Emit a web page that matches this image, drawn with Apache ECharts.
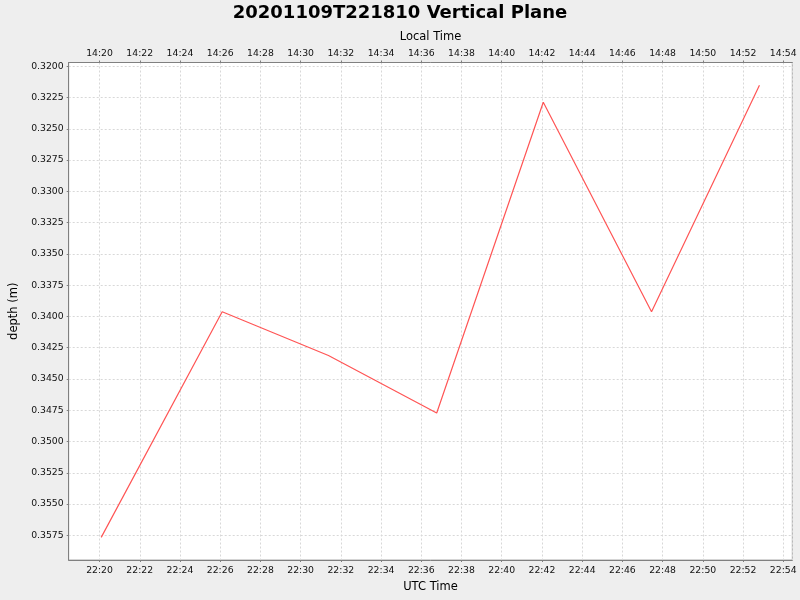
<!DOCTYPE html>
<html><head><meta charset="utf-8">
<script src="https://cdn.jsdelivr.net/npm/echarts@6/dist/echarts.min.js"></script>
<style>html,body{margin:0;padding:0;background:#eeeeee}#c{width:800px;height:600px}</style>
</head><body><div id="c"></div>
<script>
// UTC sample times (2020-11-09) and depth values
const utcTimes = ['22:20:05','22:26:06','22:31:23','22:36:46','22:42:04','22:47:27','22:52:49'];
const depths = [0.35766, 0.33962, 0.34312, 0.34772, 0.32288, 0.33962, 0.32152];
// axis extents
const xRange = ['22:18:28', '22:54:27'];
const depthRange = [0.31970, 0.35947];
const tickMinutes = 2;
const depthStep = 0.0025;
const localOffsetMin = -480; // local = UTC - 8h

function toMin(s){const p=s.split(':').map(Number);return p[0]*60+p[1]+(p[2]||0)/60;}
function fmt(v){v=Math.round(v);v=((v%1440)+1440)%1440;const h=Math.floor(v/60),m=v%60;return (h<10?'0':'')+h+':'+(m<10?'0':'')+m;}

const seriesData = utcTimes.map((t,i)=>[toMin(t), depths[i]]);
const xMin = toMin(xRange[0]), xMax = toMin(xRange[1]);

const font = 'DejaVu Sans';
const axisCommon = {
  type:'value', min:xMin, max:xMax, minInterval:tickMinutes, maxInterval:tickMinutes, splitNumber:18,
  nameLocation:'middle', nameGap:20,
  nameTextStyle:{fontFamily:font,fontSize:11.5,color:'#000'},
  axisLine:{show:true,lineStyle:{color:'#808080',width:1}},
  axisTick:{show:true,length:2,lineStyle:{color:'#808080'}},
  axisLabel:{fontFamily:font,fontSize:9.3,color:'#111',showMinLabel:false,showMaxLabel:false}
};

const chart = echarts.init(document.getElementById('c'), null, {renderer:'canvas'});
chart.setOption({
  animation:false,
  backgroundColor:'#eeeeee',
  title:{text:'20201109T221810 Vertical Plane',left:'center',top:-1,
    textStyle:{fontFamily:font,fontSize:18,fontWeight:'bold',color:'#000'}},
  grid:{left:68.7,right:7.7,top:62.5,bottom:40,show:true,backgroundColor:'#ffffff',borderColor:'#aaaaaa',borderWidth:1,containLabel:false},
  xAxis:[
    Object.assign({}, axisCommon, {position:'bottom', name:'UTC Time', nameGap:21,
      axisLabel:Object.assign({}, axisCommon.axisLabel, {margin:6.5, formatter:v=>fmt(v)}),
      splitLine:{show:true,lineStyle:{color:'#d8d8d8',type:[2,2],width:1}}}),
    Object.assign({}, axisCommon, {position:'top', name:'Local Time', nameGap:19,
      axisLabel:Object.assign({}, axisCommon.axisLabel, {margin:4.5, formatter:v=>fmt(v+localOffsetMin)}),
      splitLine:{show:false}})
  ],
  yAxis:{type:'value', inverse:true, min:depthRange[0], max:depthRange[1],
    minInterval:depthStep, maxInterval:depthStep, splitNumber:16,
    name:'depth (m)', nameLocation:'middle', nameGap:42, nameRotate:90,
    nameTextStyle:{fontFamily:font,fontSize:11.5,color:'#000'},
    axisLine:{show:true,lineStyle:{color:'#808080',width:1}},
    axisTick:{show:true,length:2,lineStyle:{color:'#808080'}},
    axisLabel:{fontFamily:font,fontSize:9.3,color:'#111',margin:5,showMinLabel:false,showMaxLabel:false,formatter:v=>v.toFixed(4)},
    splitLine:{show:true,lineStyle:{color:'#d8d8d8',type:[2,2],width:1}}
  },
  series:[{type:'line',xAxisIndex:0,data:seriesData,showSymbol:false,symbol:'none',
    lineStyle:{color:'#ff5555',width:1.2},itemStyle:{color:'#ff5555'}}]
});
</script></body></html>
